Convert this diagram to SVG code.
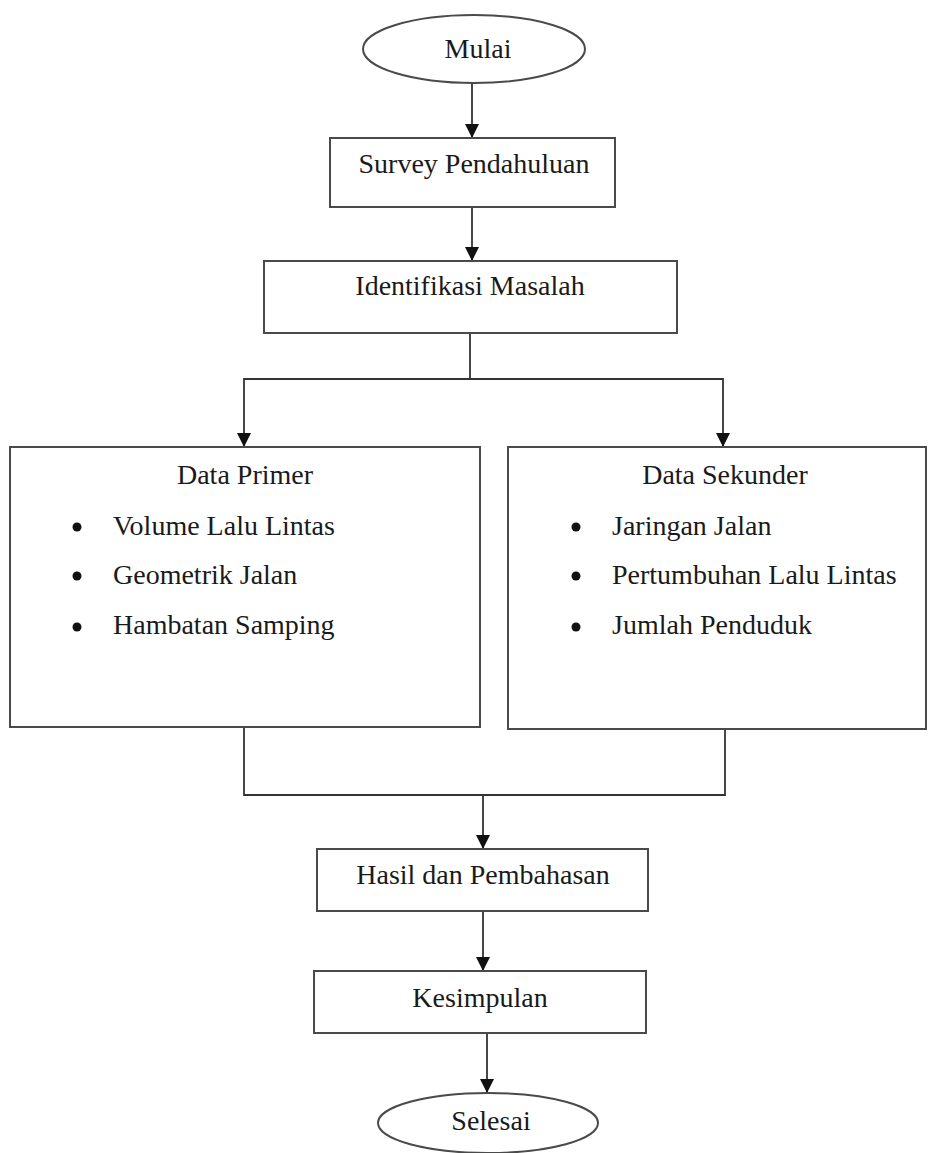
<svg xmlns="http://www.w3.org/2000/svg" width="928" height="1153" viewBox="0 0 928 1153">
<style>
.box{fill:#fff;stroke:#4a4a4a;stroke-width:2}
.ln{fill:none;stroke:#333;stroke-width:1.8}
.t{font-family:"Liberation Serif","Times New Roman",serif;font-size:28px;fill:#1a1a1a}
.c{text-anchor:middle}
</style>
<defs>
<marker id="ah" viewBox="0 0 10 10" refX="10" refY="5" markerWidth="14" markerHeight="14" markerUnits="userSpaceOnUse" orient="auto">
<path d="M0,0 L10,5 L0,10 Z" fill="#111"/>
</marker>
</defs>
<rect width="928" height="1153" fill="#fff"/>
<g id="connectors">
<line class="ln" x1="472" y1="83" x2="472" y2="138" marker-end="url(#ah)"/>
<line class="ln" x1="472" y1="207" x2="472" y2="261" marker-end="url(#ah)"/>
<path class="ln" d="M470,333 V379 H244 V447" marker-end="url(#ah)"/>
<path class="ln" d="M470,379 H723 V447" marker-end="url(#ah)"/>
<path class="ln" d="M244,727 V795 H725 V729"/>
<line class="ln" x1="483" y1="795" x2="483" y2="849" marker-end="url(#ah)"/>
<line class="ln" x1="483" y1="911" x2="483" y2="971" marker-end="url(#ah)"/>
<line class="ln" x1="487" y1="1033" x2="487" y2="1093" marker-end="url(#ah)"/>
</g>
<g id="mulai">
<ellipse class="box" cx="474" cy="49" rx="111" ry="34"/>
<text class="t c" x="478" y="58">Mulai</text>
</g>
<g id="survey">
<rect class="box" x="330" y="138" width="285" height="69"/>
<text class="t c" x="474" y="173">Survey Pendahuluan</text>
</g>
<g id="identifikasi">
<rect class="box" x="264" y="261" width="413" height="72"/>
<text class="t c" x="470" y="295">Identifikasi Masalah</text>
</g>
<g id="primer">
<rect class="box" x="10" y="447" width="470" height="280"/>
<text class="t c" x="245" y="484">Data Primer</text>
<circle cx="77" cy="527" r="4.5" fill="#111"/>
<circle cx="77" cy="576" r="4.5" fill="#111"/>
<circle cx="77" cy="627" r="4.5" fill="#111"/>
<text class="t" x="113" y="535">Volume Lalu Lintas</text>
<text class="t" x="113" y="584">Geometrik Jalan</text>
<text class="t" x="113" y="634">Hambatan Samping</text>
</g>
<g id="sekunder">
<rect class="box" x="508" y="447" width="418" height="282"/>
<text class="t c" x="725" y="484">Data Sekunder</text>
<circle cx="576" cy="527" r="4.5" fill="#111"/>
<circle cx="576" cy="576" r="4.5" fill="#111"/>
<circle cx="576" cy="627" r="4.5" fill="#111"/>
<text class="t" x="612" y="535">Jaringan Jalan</text>
<text class="t" x="612" y="584">Pertumbuhan Lalu Lintas</text>
<text class="t" x="612" y="634">Jumlah Penduduk</text>
</g>
<g id="hasil">
<rect class="box" x="317" y="849" width="331" height="62"/>
<text class="t c" x="483" y="884">Hasil dan Pembahasan</text>
</g>
<g id="kesimpulan">
<rect class="box" x="314" y="971" width="332" height="62"/>
<text class="t c" x="480" y="1007">Kesimpulan</text>
</g>
<g id="selesai">
<ellipse class="box" cx="488" cy="1123" rx="110" ry="30"/>
<text class="t c" x="491" y="1130">Selesai</text>
</g>
</svg>
